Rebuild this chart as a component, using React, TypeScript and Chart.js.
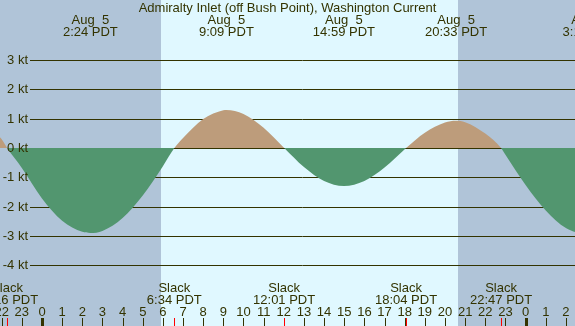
import React, { useEffect, useRef } from "react";
import { Chart, registerables } from "chart.js";

Chart.register(...registerables);

// Current speed readings (hours from Aug 5 00:00 PDT, knots; + flood, - ebb)
const times = [-3, -2, -1.73, -1, 0, 1, 2, 2.4, 3, 4, 5, 6, 6.57, 7, 8, 9, 9.15, 10, 11, 12.02, 13, 14, 14.98, 16, 17, 18.07, 19, 20, 20.55, 21, 22, 22.78, 23, 24, 25, 26, 27.2];
const speeds = [0.85, 0.3, 0, -0.68, -1.72, -2.48, -2.86, -2.9, -2.83, -2.39, -1.62, -0.62, 0, 0.34, 0.99, 1.29, 1.3, 1.16, 0.69, 0, -0.65, -1.13, -1.3, -1.13, -0.67, 0, 0.52, 0.87, 0.93, 0.88, 0.49, 0, -0.23, -1.26, -2.13, -2.73, -3.0];

// Event labels
const peakDates = ["Aug  5", "Aug  5", "Aug  5", "Aug  5", "Aug  6"];
const peakTimes = ["2:24", "9:09", "14:59", "20:33", "3:12"];
const peakDays = [0, 0, 0, 0, 1];
const slackTimes = ["22:16", "6:34", "12:01", "18:04", "22:47"];
const slackDays = [-1, 0, 0, 0, 0];

const yTicks = [3, 2, 1, 0, -1, -2, -3, -4];
const hourTickStart = -2;
const hourTickEnd = 26;

const sunrise = 5.9;
const sunset = 20.65;

const title = "Admiralty Inlet (off Bush Point), Washington Current";

const toHour = (t: string, day: number) => {
  const [h, m] = t.split(":").map(Number);
  return day * 24 + h + m / 60;
};

const NIGHT = "#b0c4d8";
const DAY = "#e0f8ff";
const INK = "#333300";
const FLOOD = "#bd9c7b";
const EBB = "#52966f";
const FONT = "13px 'Liberation Sans', Arial, sans-serif";

export default function App() {
  const ref = useRef<HTMLCanvasElement>(null);
  useEffect(() => {
    document.body.style.margin = "0";
    const canvas = ref.current!;
    const deco = {
      id: "deco",
      beforeDraw(chart: any) {
        const { ctx, scales } = chart;
        const xs = scales.x;
        ctx.save();
        ctx.fillStyle = NIGHT;
        ctx.fillRect(0, 0, chart.width, chart.height);
        const x1 = Math.round(xs.getPixelForValue(sunrise));
        const x2 = Math.round(xs.getPixelForValue(sunset));
        ctx.fillStyle = DAY;
        ctx.fillRect(x1, 0, x2 - x1, chart.height);
        ctx.restore();
      },
      beforeDatasetsDraw(chart: any) {
        const { ctx, scales } = chart;
        const ys = scales.y;
        ctx.save();
        ctx.strokeStyle = INK;
        ctx.lineWidth = 1;
        yTicks.forEach((v) => {
          const y = Math.round(ys.getPixelForValue(v)) + 0.5;
          ctx.beginPath();
          ctx.moveTo(30, y);
          ctx.lineTo(chart.width, y);
          ctx.stroke();
        });
        ctx.restore();
      },
      afterDraw(chart: any) {
        const { ctx, scales } = chart;
        const xs = scales.x;
        const ys = scales.y;
        ctx.save();
        ctx.font = FONT;
        ctx.fillStyle = INK;
        ctx.textBaseline = "alphabetic";
        // title
        ctx.textAlign = "center";
        ctx.fillText(title, chart.width / 2, 12);
        // y labels
        ctx.textAlign = "right";
        ctx.textBaseline = "middle";
        yTicks.forEach((v) => {
          ctx.fillText(`${v} kt`, 28, ys.getPixelForValue(v) + 0.5);
        });
        ctx.textBaseline = "alphabetic";
        ctx.textAlign = "center";
        // peak labels
        peakTimes.forEach((t, i) => {
          const x = xs.getPixelForValue(toHour(t, peakDays[i]));
          ctx.fillText(peakDates[i], x, 24);
          ctx.fillText(`${t} PDT`, x, 36);
        });
        // slack labels
        slackTimes.forEach((t, i) => {
          const x = xs.getPixelForValue(toHour(t, slackDays[i]));
          ctx.fillText("Slack", x, 292);
          ctx.fillText(`${t} PDT`, x, 304);
        });
        // hour labels and ticks
        for (let h = hourTickStart; h <= hourTickEnd; h++) {
          const x = xs.getPixelForValue(h);
          const lab = String(((h % 24) + 24) % 24);
          ctx.fillStyle = INK;
          ctx.fillText(lab, x, 316);
          const rx = Math.round(x);
          if (((h % 24) + 24) % 24 === 0) ctx.fillRect(rx - 1, 318, 3, 8);
          else ctx.fillRect(rx, 318, 1, 8);
        }
        ctx.fillStyle = "#ff0000";
        slackTimes.forEach((t, i) => {
          const rx = Math.round(xs.getPixelForValue(toHour(t, slackDays[i])));
          ctx.fillRect(rx, 318, 1, 8);
        });
        ctx.restore();
      },
    };
    const chart = new Chart(canvas, {
      type: "line",
      data: {
        datasets: [
          {
            data: times.map((t, i) => ({ x: t, y: speeds[i] })),
            borderWidth: 0,
            borderColor: "rgba(0,0,0,0)",
            pointRadius: 0,
            cubicInterpolationMode: "monotone",
            fill: { target: "origin", above: FLOOD, below: EBB },
          },
        ],
      },
      options: {
        animation: false,
        responsive: false,
        devicePixelRatio: 1,
        layout: { padding: 0 },
        plugins: { legend: { display: false }, tooltip: { enabled: false }, title: { display: false } },
        scales: {
          x: { type: "linear", min: -2.084, max: 26.452, display: false },
          y: { type: "linear", min: -6.075, max: 5.05, display: false },
        },
      },
      plugins: [deco],
    });
    return () => chart.destroy();
  }, []);
  return <canvas ref={ref} width={575} height={326} style={{ display: "block" }} />;
}
